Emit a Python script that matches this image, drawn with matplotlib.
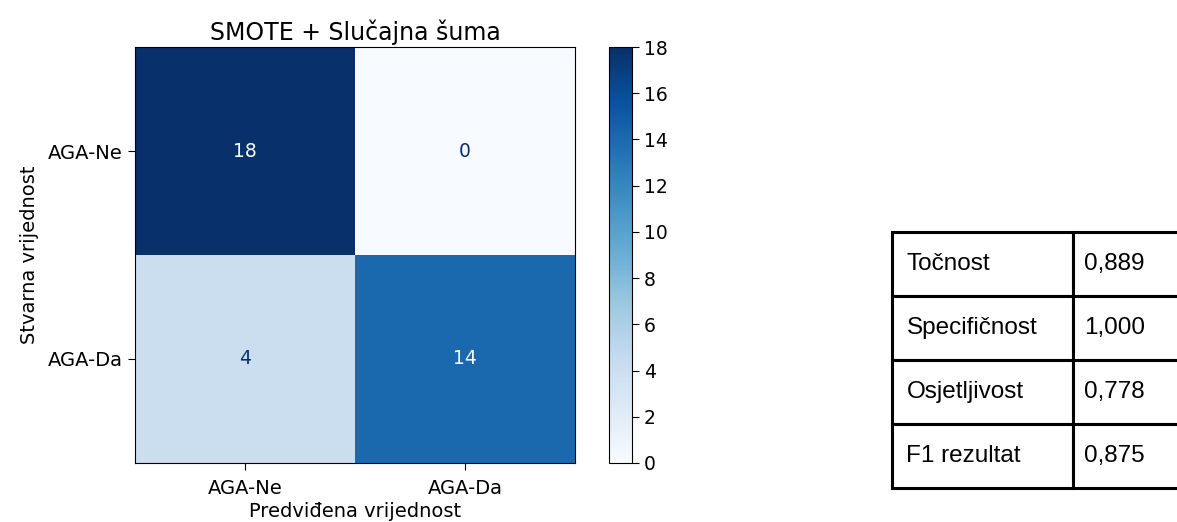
import matplotlib.pyplot as plt
import numpy as np

# Confusion matrix data
labels = ['AGA-Ne', 'AGA-Da']
matrix = np.array([[18, 0],
                   [4, 14]])

# Metrics table
metric_names = ['Točnost', 'Specifičnost', 'Osjetljivost', 'F1 rezultat']
metric_values = ['0,889', '1,000', '0,778', '0,875']

W, H = 1177, 522
fig = plt.figure(figsize=(W / 100, H / 100), dpi=100)

# Confusion matrix
ax = fig.add_axes([135 / W, 1 - 463 / H, 440 / W, 416 / H])
cmap = plt.cm.Blues
im = ax.imshow(matrix, cmap=cmap, aspect='auto', vmin=0, vmax=matrix.max())
thresh = (matrix.max() + matrix.min()) / 2
for i in range(matrix.shape[0]):
    for j in range(matrix.shape[1]):
        color = cmap(0) if matrix[i, j] >= thresh else cmap(256)
        ax.text(j, i, str(matrix[i, j]), ha='center', va='center',
                color=color, fontsize=13.5)
ax.set_xticks(range(len(labels)))
ax.set_xticklabels(labels, fontsize=14)
ax.set_yticks(range(len(labels)))
ax.set_yticklabels(labels, fontsize=14)
ax.tick_params(axis='both', length=5, pad=4)
ax.tick_params(axis='x', pad=6.5)
ax.set_xlabel('Predviđena vrijednost', fontsize=14, labelpad=3)
ax.set_ylabel('Stvarna vrijednost', fontsize=14, labelpad=6)
ax.set_title('SMOTE + Slučajna šuma', fontsize=17, pad=5)

# Colorbar
cax = fig.add_axes([609 / W, 1 - 463 / H, 23 / W, 416 / H])
cb = fig.colorbar(im, cax=cax, ticks=np.arange(0, 19, 2))
cb.ax.tick_params(labelsize=13.5, length=5)

# Metrics table (right border falls just outside the figure, as in the source)
tax = fig.add_axes([892 / W, 1 - 488 / H, 300 / W, 256 / H])
tax.axis('off')
cell_text = [[n, v] for n, v in zip(metric_names, metric_values)]
table = tax.table(cellText=cell_text, cellLoc='left', bbox=[0, 0, 1, 1],
                  colWidths=[181 / 300, 119 / 300])
table.auto_set_font_size(False)
for (r, c), cell in table.get_celld().items():
    cell.set_linewidth(2.2)
    cell.set_edgecolor('black')
    cell.PAD = 0.08 if c == 0 else 0.09
    cell.get_text().set_fontsize(17.5)
    cell.get_text().set_fontfamily('Liberation Sans')

fig.savefig('out.png', dpi=100)
